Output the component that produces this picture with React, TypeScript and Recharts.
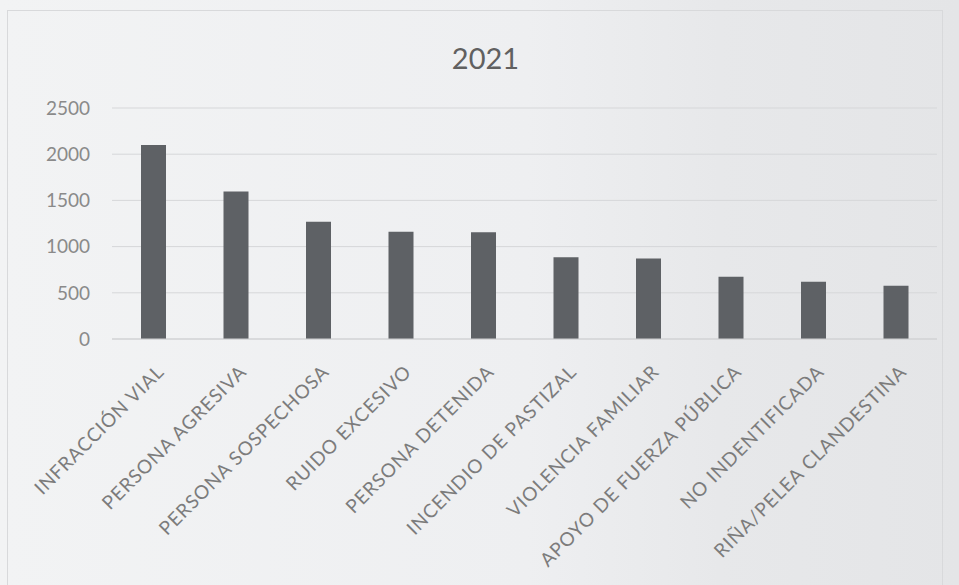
import {Bar, BarChart, CartesianGrid, XAxis, YAxis} from 'recharts';

const categories = [
  'INFRACCIÓN VIAL',
  'PERSONA AGRESIVA',
  'PERSONA SOSPECHOSA',
  'RUIDO EXCESIVO',
  'PERSONA DETENIDA',
  'INCENDIO DE PASTIZAL',
  'VIOLENCIA FAMILIAR',
  'APOYO DE FUERZA PÚBLICA',
  'NO INDENTIFICADA',
  'RIÑA/PELEA CLANDESTINA',
];
const values = [2100, 1595, 1270, 1160, 1155, 885, 870, 675, 620, 575];
const yTicks = [0, 500, 1000, 1500, 2000, 2500];

const data = categories.map((name, i) => ({name, value: values[i]}));

const FONT = 'Lato, "Open Sans", sans-serif';

function XTick({x, y, payload}: any) {
  return (
    <g transform={`translate(${x + 12},${y + 26})`}>
      <text
        textAnchor="end"
        transform="rotate(-45)"
        fill="#7c7c7c"
        fontSize={19}
        letterSpacing={0.9}
        fontFamily={FONT}
      >
        {payload.value}
      </text>
    </g>
  );
}

export default function App() {
  return (
    <div
      style={{
        position: 'fixed',
        left: 0,
        top: 0,
        width: 959,
        height: 585,
        background: 'linear-gradient(to right, #f2f3f4 0%, #eeeff1 55%, #e7e8ea 75%, #e4e5e7 100%)',
        overflow: 'hidden',
      }}
    >
      <div
        style={{
          position: 'absolute',
          left: 7,
          top: 10,
          width: 934,
          height: 600,
          border: '1px solid #d8d9db',
        }}
      />
      <div
        style={{
          position: 'absolute',
          left: 0,
          width: 959,
          top: 40,
          textAlign: 'center',
          fontFamily: FONT,
          fontSize: 29,
          color: '#606060',
        }}
      >
        <span style={{position: 'relative', left: 6}}>2021</span>
      </div>
      <BarChart
        width={959}
        height={585}
        data={data}
        margin={{top: 108, right: 22, left: 0, bottom: 46}}
        style={{position: 'absolute', left: 0, top: 0}}
      >
        <CartesianGrid vertical={false} stroke="#d6d7d9" />
        <XAxis
          dataKey="name"
          interval={0}
          height={200}
          tickLine={false}
          axisLine={{stroke: '#cfd0d2'}}
          tick={<XTick />}
        />
        <YAxis
          width={112}
          domain={[0, 2500]}
          ticks={yTicks}
          tickLine={false}
          axisLine={false}
          tickMargin={16}
          tick={{fill: '#8a8a8a', fontSize: 19, fontFamily: FONT}}
        />
        <Bar dataKey="value" fill="#5e6165" barSize={25} isAnimationActive={false} />
      </BarChart>
    </div>
  );
}
